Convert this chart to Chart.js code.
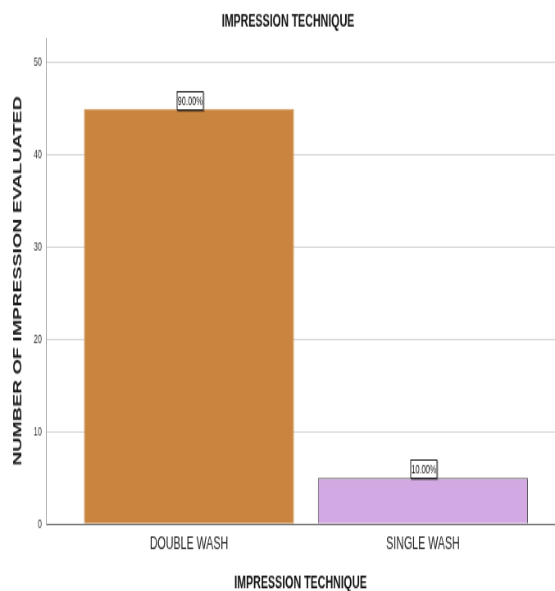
<!DOCTYPE html>
<html>
<head>
<meta charset="utf-8">
<title>Impression technique</title>
<script src="https://cdn.jsdelivr.net/npm/chart.js@4.4.1/dist/chart.umd.min.js"></script>
<style>
  html, body { margin: 0; padding: 0; background: #ffffff; width: 555px; height: 591px; overflow: hidden; }
  /* the chart is laid out on a wide, short canvas, then squeezed horizontally and stretched vertically */
  #frame { width: 677px; height: 422px; transform: scale(0.81979, 1.40047); transform-origin: 0 0; }
  canvas { display: block; }
</style>
</head>
<body>
<div id="frame"><canvas id="chart" width="677" height="422"></canvas></div>
<script>
const categories = ['DOUBLE WASH', 'SINGLE WASH'];
const counts = [45, 5];
const barFill = ['#c9853f', '#d2a9e2'];
const barEdge = ['#c9853f', '#555555'];
const yTickValues = [0, 10, 20, 30, 40, 50];
const chartTitle = 'IMPRESSION TECHNIQUE';
const xAxisTitle = 'IMPRESSION TECHNIQUE';
const yAxisTitle = 'NUMBER OF IMPRESSION EVALUATED';

const total = counts.reduce((a, b) => a + b, 0);
const SANS = "'Liberation Sans', Arial, sans-serif";

// percentage boxes sitting on top of each bar
const valueBoxes = {
  id: 'valueBoxes',
  afterDatasetsDraw(chart) {
    const ctx = chart.ctx;
    const meta = chart.getDatasetMeta(0);
    ctx.save();
    ctx.font = '9px ' + SANS;
    ctx.textAlign = 'center';
    ctx.textBaseline = 'middle';
    meta.data.forEach((bar, i) => {
      const text = (counts[i] / total * 100).toFixed(2) + '%';
      const w = 33, h = 14;
      const cx = Math.round(bar.x) + 1;
      const bottom = Math.round(bar.y) + 1;
      const left = cx - w / 2, top = bottom - h;
      ctx.fillStyle = 'rgba(0,0,0,0.35)';
      ctx.fillRect(left + 1, top + 1, w, h);
      ctx.fillStyle = '#ffffff';
      ctx.fillRect(left, top, w, h);
      ctx.strokeStyle = '#222222';
      ctx.lineWidth = 1;
      ctx.strokeRect(left + 0.5, top + 0.5, w - 1, h - 1);
      ctx.fillStyle = '#111111';
      ctx.fillText(text, cx, top + h / 2 + 0.5);
    });
    ctx.restore();
  }
};

new Chart(document.getElementById('chart'), {
  type: 'bar',
  data: {
    datasets: [{
      data: categories.map((c, i) => ({ x: i, y: counts[i] })),
      backgroundColor: barFill,
      borderColor: barEdge,
      borderWidth: 1,
      categoryPercentage: 1,
      barPercentage: 0.8977
    }]
  },
  options: {
    responsive: false,
    animation: false,
    devicePixelRatio: 1,
    layout: { padding: { left: 0, right: -25.6, top: 0, bottom: 0 } },
    plugins: {
      legend: { display: false },
      tooltip: { enabled: false },
      title: {
        display: true,
        text: chartTitle,
        color: '#111111',
        font: { family: SANS, weight: 'bold', size: 13, lineHeight: 1.2 },
        padding: { top: 7.6, bottom: 3.9 }
      }
    },
    scales: {
      x: {
        type: 'linear',
        min: -0.6111,
        max: 1.5645,
        offset: false,
        bounds: 'data',
        afterFit(s) { s.height = 47.8; },
        afterBuildTicks(s) { s.ticks = categories.map((c, i) => ({ value: i })); },
        ticks: {
          padding: 6,
          color: '#222222',
          autoSkip: false,
          maxRotation: 0,
          font: { family: SANS, size: 13 },
          callback: v => categories[v]
        },
        grid: { display: false, drawTicks: false },
        border: { color: '#7a7a7a', width: 1 },
        title: {
          display: true,
          text: xAxisTitle,
          color: '#111111',
          font: { family: SANS, weight: 'bold', size: 13, lineHeight: 1 },
          padding: { top: 0, bottom: -1 }
        }
      },
      y: {
        min: 0,
        max: 52.7,
        afterFit(s) { s.width = 56.1; },
        afterBuildTicks(s) { s.ticks = yTickValues.map(v => ({ value: v })); },
        ticks: {
          padding: 5,
          color: '#333333',
          font: { family: SANS, size: 9 }
        },
        grid: {
          drawTicks: false,
          color: ctx => (ctx.tick && ctx.tick.value === 0) ? '#7a7a7a' : '#d6d6d6'
        },
        border: { color: '#a6a6a6', width: 1 },
        title: {
          display: true,
          text: yAxisTitle,
          color: '#1a1a1a',
          font: { family: SANS, weight: 'bold', size: 14, lineHeight: 1.2 },
          padding: { top: 13.6, bottom: 0 }
        }
      }
    }
  },
  plugins: [valueBoxes]
});
</script>
</body>
</html>
